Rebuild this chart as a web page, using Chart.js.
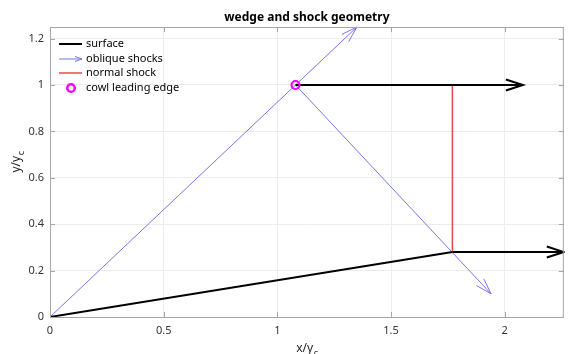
<!DOCTYPE html>
<html>
<head>
<meta charset="utf-8">
<script src="https://cdn.jsdelivr.net/npm/chart.js@4"></script>
<style>
  html, body { margin: 0; padding: 0; background: #fff; overflow: hidden; }
  canvas { display: block; }
</style>
</head>
<body>
<canvas id="chart" width="570" height="354"></canvas>
<script>
// tick labels
const xTicks = [0, 0.5, 1, 1.5, 2];
const yTicks = [0, 0.2, 0.4, 0.6, 0.8, 1, 1.2];

// geometry (x/yc, y/yc)
const surfaceX = [0, 1.77];
const surfaceY = [0, 0.28];
const incidentX = [0, 1.35];
const incidentY = [0, 1.25];
const reflectedX = [1.08, 1.94];
const reflectedY = [1, 0.10];
const normalX = [1.77, 1.77];
const normalY = [0.28, 1];
const cowlX = [1.08];
const cowlY = [1];
const flowTopX = [1.08, 2.08];
const flowTopY = [1, 1];
const flowBotX = [1.77, 2.26];
const flowBotY = [0.28, 0.28];

const FONT = '"Noto Sans", "Open Sans", sans-serif';
const BLUE = '#7676e4';
const RED = '#e64848';

function pts(xs, ys) {
    return xs.map((x, i) => ({x: x, y: ys[i]}));
}

function line(xs, ys, color, width, arrow) {
    return {
        data: pts(xs, ys),
        showLine: true,
        borderColor: color,
        borderWidth: width,
        pointRadius: 0,
        arrow: arrow
    };
}

// arrow heads, box, ticks, labels and legend
const decor = {
    id: 'decor',
    afterDatasetsDraw(chart) {
        const ctx = chart.ctx;
        const a = chart.chartArea;
        const xs = chart.scales.x, ys = chart.scales.y;
        ctx.save();
        ctx.beginPath();
        ctx.rect(a.left, a.top - 1, a.right - a.left + 1, a.bottom - a.top + 1);
        ctx.clip();
        chart.data.datasets.forEach((ds) => {
            if (!ds.arrow) return;
            const n = ds.data.length;
            const p0 = ds.data[n - 2], p1 = ds.data[n - 1];
            drawHead(ctx, xs.getPixelForValue(p0.x), ys.getPixelForValue(p0.y),
                xs.getPixelForValue(p1.x), ys.getPixelForValue(p1.y),
                ds.borderColor, ds.borderWidth, ds.arrow[0], ds.arrow[1]);
        });
        ctx.restore();
    },
    afterDraw(chart) {
        const ctx = chart.ctx;
        const a = chart.chartArea;
        const xs = chart.scales.x, ys = chart.scales.y;
        ctx.save();
        // box
        ctx.strokeStyle = '#a6a6a6';
        ctx.lineWidth = 1;
        ctx.beginPath();
        ctx.moveTo(a.left, a.top + 0.5);
        ctx.lineTo(a.right, a.top + 0.5);
        ctx.moveTo(a.right - 0.5, a.top);
        ctx.lineTo(a.right - 0.5, a.bottom);
        // inner ticks
        xTicks.forEach((v) => {
            const px = Math.round(xs.getPixelForValue(v)) + 0.5;
            ctx.moveTo(px, a.bottom); ctx.lineTo(px, a.bottom - 5);
            ctx.moveTo(px, a.top); ctx.lineTo(px, a.top + 5);
        });
        yTicks.forEach((v) => {
            const py = Math.round(ys.getPixelForValue(v)) + 0.5;
            ctx.moveTo(a.left, py); ctx.lineTo(a.left + 5, py);
            ctx.moveTo(a.right, py); ctx.lineTo(a.right - 5, py);
        });
        ctx.stroke();

        // title
        const cx = (a.left + a.right) / 2;
        ctx.fillStyle = '#000';
        ctx.font = 'bold 12px ' + FONT;
        ctx.textAlign = 'center';
        ctx.textBaseline = 'middle';
        ctx.fillText('wedge and shock geometry', cx, 18);

        // axis labels with subscript c
        ctx.fillStyle = '#262626';
        subLabel(ctx, 'x/y', 'c', cx, 349);
        ctx.save();
        ctx.translate(17, 162);
        ctx.rotate(-Math.PI / 2);
        subLabel(ctx, 'y/y', 'c', 0, 0);
        ctx.restore();

        // legend
        const rows = [44, 59, 73, 88];
        const names = ['surface', 'oblique shocks', 'normal shock', 'cowl leading edge'];
        ctx.font = '11px ' + FONT;
        ctx.textAlign = 'left';
        ctx.textBaseline = 'middle';
        ctx.fillStyle = '#000';
        names.forEach((t, i) => ctx.fillText(t, 86, rows[i]));
        ctx.lineCap = 'butt';
        ctx.strokeStyle = '#000'; ctx.lineWidth = 2;
        ctx.beginPath(); ctx.moveTo(59, rows[0]); ctx.lineTo(82, rows[0]); ctx.stroke();
        ctx.strokeStyle = BLUE; ctx.lineWidth = 1;
        ctx.beginPath(); ctx.moveTo(59, rows[1]); ctx.lineTo(82, rows[1]); ctx.stroke();
        drawHead(ctx, 59, rows[1], 82, rows[1], BLUE, 1, 7, 2.5);
        ctx.strokeStyle = RED; ctx.lineWidth = 1.5;
        ctx.beginPath(); ctx.moveTo(59, rows[2]); ctx.lineTo(82, rows[2]); ctx.stroke();
        ctx.strokeStyle = '#ff00ff'; ctx.lineWidth = 2.5;
        ctx.beginPath(); ctx.arc(71, rows[3], 3.8, 0, Math.PI * 2); ctx.stroke();
        ctx.restore();
    }
};

function drawHead(ctx, x0, y0, x1, y1, color, width, len, half) {
    const ang = Math.atan2(y1 - y0, x1 - x0);
    const c = Math.cos(ang), s = Math.sin(ang);
    ctx.save();
    ctx.strokeStyle = color;
    ctx.lineWidth = width;
    ctx.lineJoin = 'miter';
    ctx.beginPath();
    ctx.moveTo(x1 - len * c - half * s, y1 - len * s + half * c);
    ctx.lineTo(x1, y1);
    ctx.lineTo(x1 - len * c + half * s, y1 - len * s - half * c);
    ctx.stroke();
    ctx.restore();
}

function subLabel(ctx, main, sub, cx, cy) {
    ctx.font = '12px ' + FONT;
    const w1 = ctx.measureText(main).width;
    ctx.font = '9px ' + FONT;
    const w2 = ctx.measureText(sub).width;
    const x = cx - (w1 + w2) / 2;
    ctx.textAlign = 'left';
    ctx.textBaseline = 'middle';
    ctx.font = '12px ' + FONT;
    ctx.fillText(main, x, cy);
    ctx.font = '9px ' + FONT;
    ctx.fillText(sub, x + w1 + 0.5, cy + 4);
}

let ctx = document.getElementById('chart');

let myChart = new Chart(ctx, {
    type: 'scatter',
    data: {
        datasets: [
            {
                data: pts(cowlX, cowlY),
                pointRadius: 4,
                pointBorderWidth: 2.2,
                pointBorderColor: '#ff00ff',
                pointBackgroundColor: 'rgba(0,0,0,0)',
                clip: false
            },
            line(flowTopX, flowTopY, '#000', 2, [17, 5.5]),
            line(flowBotX, flowBotY, '#000', 2, [17, 5.5]),
            line(normalX, normalY, RED, 1.5),
            line(surfaceX, surfaceY, '#000', 2),
            line(incidentX, incidentY, BLUE, 1, [16, 5]),
            line(reflectedX, reflectedY, BLUE, 1, [16, 5])
        ]
    },
    options: {
        responsive: false,
        animation: false,
        layout: { padding: { top: 27, right: 1, left: 0, bottom: 0 } },
        plugins: {
            legend: { display: false },
            tooltip: { enabled: false }
        },
        scales: {
            x: {
                type: 'linear',
                min: 0,
                max: 2.26,
                afterBuildTicks: (s) => { s.ticks = xTicks.map((v) => ({value: v})); },
                afterFit: (s) => { s.height = 37; s.paddingLeft = 0; s.paddingRight = 0; },
                grid: { color: '#ececec', drawTicks: false },
                border: { color: '#a6a6a6' },
                ticks: {
                    padding: 7,
                    color: '#333',
                    font: { family: FONT, size: 11 },
                    callback: (v) => String(v)
                }
            },
            y: {
                type: 'linear',
                min: 0,
                max: 1.25,
                afterBuildTicks: (s) => { s.ticks = yTicks.map((v) => ({value: v})); },
                afterFit: (s) => { s.width = 50; s.paddingTop = 0; s.paddingBottom = 0; },
                grid: { color: '#ececec', drawTicks: false },
                border: { color: '#a6a6a6' },
                ticks: {
                    padding: 6,
                    color: '#333',
                    font: { family: FONT, size: 11 },
                    callback: (v) => String(v)
                }
            }
        }
    },
    plugins: [decor]
});
</script>
</body>
</html>
